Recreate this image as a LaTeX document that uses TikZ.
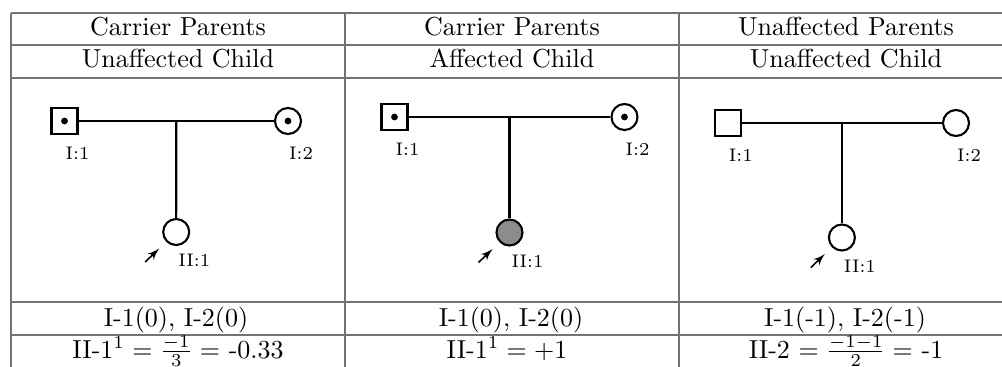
\documentclass[tikz,border=0pt]{standalone}
\usepackage{amsmath,amssymb}
\usepackage{xcolor}
\usepackage{tikz}
\usetikzlibrary{arrows}
\usetikzlibrary{positioning}

\begin{document}
\begin{tikzpicture}[x=0.3846pt,y=-0.3846pt,
    rule/.style={draw=black!55,line width=0.45pt},
    male/.style={draw,line width=0.8pt,minimum size=10pt,inner sep=0pt},
    female/.style={male,circle},
    tag/.style={font=\scriptsize,inner sep=0pt},
    link/.style={line width=0.8pt},
    proband/.style={-latex',line width=0.6pt}]
    \clip (0,0) rectangle (1002,367);
    % table
    \foreach \y in {13,45,78,302,335}{
      \draw[rule] (11,\y) to (1013,\y);
    };
    \foreach \x in {11,345,679,1013}{
      \draw[rule] (\x,13) to (\x,400);
    };
    \node[anchor=base] (top1) at (178,35.5) {Carrier Parents};
    \node[anchor=base] (top2) at (512,35.5) {Carrier Parents};
    \node[anchor=base] (top3) at (846,35.5) {Unaffected Parents};
    \node[anchor=base] (sub1) at (178,68) {Unaffected Child};
    \node[anchor=base] (sub2) at (512,68) {Affected Child};
    \node[anchor=base] (sub3) at (846,68) {Unaffected Child};
    \node[anchor=base] (par1) at (176,326.5) {I-1(0), I-2(0)};
    \node[anchor=base] (par2) at (511,326.5) {I-1(0), I-2(0)};
    \node[anchor=base] (par3) at (845,326.5) {I-1(-1), I-2(-1)};
    \node[anchor=base] (kid1) at (178,358) {II-1$^1 = \frac{-1}{3} =$ -0.33};
    \node[anchor=base] (kid2) at (507,358) {II-1$^1 = +1$};
    \node[anchor=base] (kid3) at (846,358) {II-2 $= \frac{-1-1}{2} =$ -1};
    % pedigrees
    \foreach \i/\fx/\mx/\my/\cx/\cy/\kc/\dr in {1/64.5/288/121/176.2/232/white/1.3pt,
        2/394.5/624.5/117/509.5/232.5/black!45/1.3pt,
        3/727.8/956/123/841.9/237.5/white/0pt}{
      \node[male] (f\i) at (\fx,\my) {};
      \node[female] (m\i) at (\mx,\my) {};
      \fill (f\i.center) circle (\dr);
      \fill (m\i.center) circle (\dr);
      \node[female,fill=\kc] (k\i) at (\cx,\cy) {};
      \path (f\i) -- (m\i) coordinate[midway] (c\i);
      \draw[link] (f\i) to (m\i);
      \draw[link] (c\i) to (k\i);
      \node[tag] (lf\i) at ([shift={(13,32)}]f\i.center) {I:1};
      \node[tag] (lm\i) at ([shift={(13,32)}]m\i.center) {I:2};
      \node[tag] (lk\i) at ([shift={(18,28.5)}]k\i.center) {II:1};
      \coordinate (a\i) at ([shift={(-31,30)}]k\i.center);
      \coordinate (b\i) at ([shift={(-17,16.5)}]k\i.center);
      \draw[proband] (a\i) to (b\i);
    };
  \end{tikzpicture}
\end{document}
